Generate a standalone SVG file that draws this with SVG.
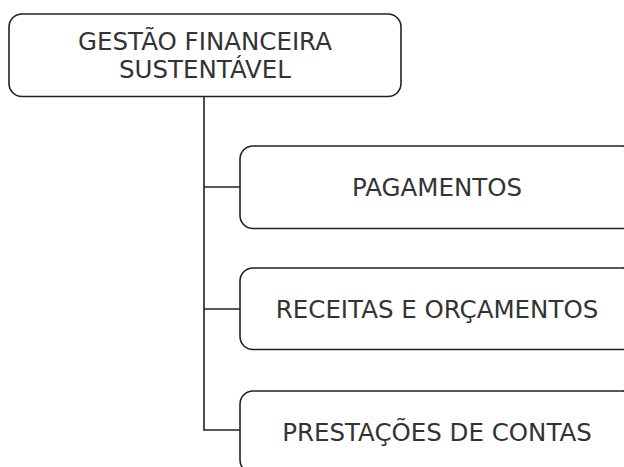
<svg xmlns="http://www.w3.org/2000/svg" width="624" height="467" viewBox="0 0 624 467">
<style>
.box{fill:#fff;stroke:#222;stroke-width:1.6}
.t{font-family:"DejaVu Sans",Verdana,sans-serif;font-size:24.5px;fill:#333;text-anchor:middle}
.c{fill:none;stroke:#222;stroke-width:1.6}
</style>
<rect width="624" height="467" fill="#fff"/>
<g id="connectors">
<path class="c" d="M204,97 V430 H240 M204,187 H240 M204,309 H240"/>
</g>
<g id="root">
<rect class="box" x="9" y="14" width="392" height="82.5" rx="13"/>
<text class="t" x="205" y="50">GESTÃO FINANCEIRA</text>
<text class="t" x="205" y="77.5">SUSTENTÁVEL</text>
</g>
<g id="pagamentos">
<rect class="box" x="240" y="146" width="395" height="82.5" rx="13"/>
<text class="t" x="437" y="196">PAGAMENTOS</text>
</g>
<g id="receitas">
<rect class="box" x="240" y="268" width="395" height="81.5" rx="13"/>
<text class="t" x="437" y="318">RECEITAS E ORÇAMENTOS</text>
</g>
<g id="prestacoes">
<rect class="box" x="240" y="391" width="395" height="82" rx="13"/>
<text class="t" x="437" y="441">PRESTAÇÕES DE CONTAS</text>
</g>
</svg>
